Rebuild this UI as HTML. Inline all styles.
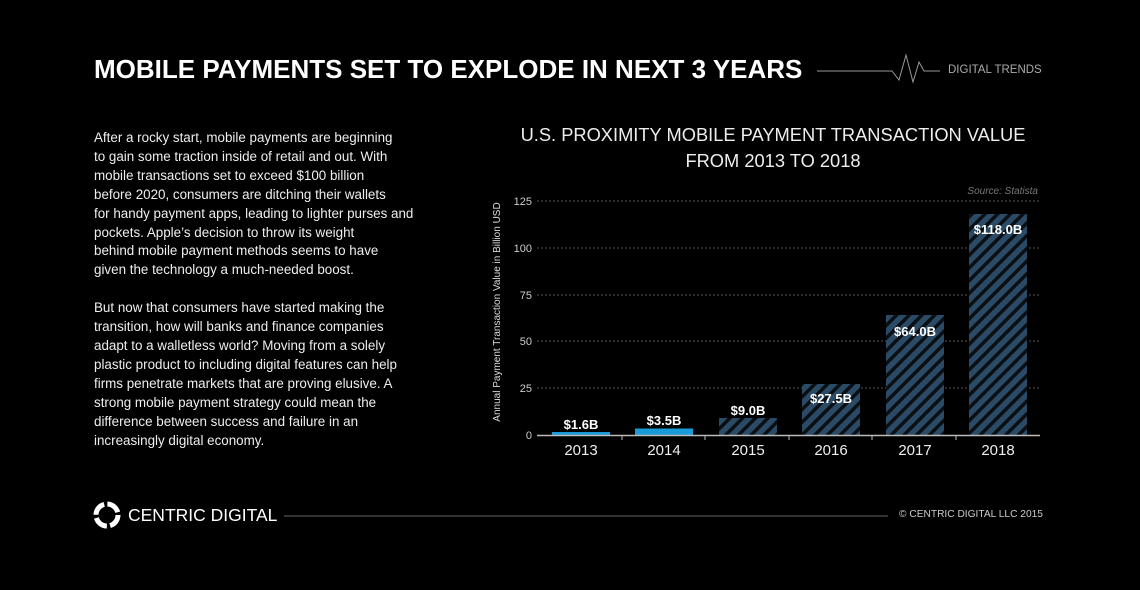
<!DOCTYPE html>
<html><head><meta charset="utf-8"><style>
body{margin:0;background:#000;width:1140px;height:590px;overflow:hidden;font-family:"Liberation Sans",sans-serif;color:#fff}
.t{position:absolute;white-space:nowrap}
</style></head><body>
<div class="t" style="left:94px;top:54px;font-size:26px;font-weight:bold;letter-spacing:0px">MOBILE PAYMENTS SET TO EXPLODE IN NEXT 3 YEARS</div>
<svg class="t" style="left:0;top:0" width="1140" height="590">
<defs><pattern id="h" width="9" height="9" patternUnits="userSpaceOnUse" patternTransform="rotate(45)"><rect width="9" height="9" fill="#2b4a66"/><rect width="3.5" height="9" fill="#0a0f14"/></pattern></defs>
<polyline points="817,71 892,71 899,80 906,55 913,82 919,62 924,71 940,71" fill="none" stroke="#999" stroke-width="1"/>
<line x1="284" y1="516" x2="888" y2="516" stroke="#666"/>
<g stroke="#555" stroke-dasharray="2,2"><line x1="537" x2="1040" y1="201" y2="201"/><line x1="537" x2="1040" y1="248" y2="248"/><line x1="537" x2="1040" y1="295" y2="295"/><line x1="537" x2="1040" y1="341" y2="341"/><line x1="537" x2="1040" y1="388" y2="388"/></g>
<rect x="552" y="432" width="58" height="3" fill="#1a9ad6"/>
<rect x="635" y="428.5" width="58" height="6.5" fill="#1a9ad6"/>
<rect x="719" y="418" width="58" height="17" fill="url(#h)"/>
<rect x="802" y="384" width="58" height="51" fill="url(#h)"/>
<rect x="886" y="315" width="58" height="120" fill="url(#h)"/>
<rect x="969" y="214" width="58" height="221" fill="url(#h)"/>
<line x1="537" x2="1040" y1="435.5" y2="435.5" stroke="#bbb" stroke-width="1.5"/>
<g stroke="#bbb"><line x1="622" x2="622" y1="435" y2="440"/><line x1="705" x2="705" y1="435" y2="440"/><line x1="789" x2="789" y1="435" y2="440"/><line x1="872" x2="872" y1="435" y2="440"/><line x1="956" x2="956" y1="435" y2="440"/></g>
<g font-size="11" fill="#ccc" text-anchor="end"><text x="532" y="205">125</text><text x="532" y="252">100</text><text x="532" y="299">75</text><text x="532" y="345">50</text><text x="532" y="392">25</text><text x="532" y="439">0</text></g>
<g font-size="15" fill="#eee" text-anchor="middle"><text x="581" y="455">2013</text><text x="664" y="455">2014</text><text x="748" y="455">2015</text><text x="831" y="455">2016</text><text x="915" y="455">2017</text><text x="998" y="455">2018</text></g>
<g font-size="13" font-weight="bold" fill="#fff" text-anchor="middle"><text x="581" y="429">$1.6B</text><text x="664" y="425">$3.5B</text><text x="748" y="415">$9.0B</text><text x="831" y="403">$27.5B</text><text x="915" y="336">$64.0B</text><text x="998" y="234">$118.0B</text></g>
<text x="1038" y="194" font-size="10" font-style="italic" fill="#777" text-anchor="end">Source:  Statista</text>
<text transform="translate(500,312) rotate(-90)" font-size="10" fill="#ddd" text-anchor="middle">Annual Payment Transaction Value in Billion USD</text>
<circle cx="107" cy="515" r="11" fill="none" stroke="#fff" stroke-width="5" stroke-dasharray="14,3.3"/>
</svg>
<div class="t" style="left:948px;top:64px;font-size:11.5px;color:#aaa">DIGITAL TRENDS</div>
<div class="t" style="left:520px;top:122px;width:506px;text-align:center;font-size:18.3px;line-height:26px;color:#eee">U.S. PROXIMITY MOBILE PAYMENT TRANSACTION VALUE<br>FROM 2013 TO 2018</div>
<div class="t" style="left:94px;top:129px;font-size:13.4px;line-height:18.9px;color:#eee">After a rocky start, mobile payments are beginning<br>to gain some traction inside of retail and out. With<br>mobile transactions set to exceed $100 billion<br>before 2020, consumers are ditching their wallets<br>for handy payment apps, leading to lighter purses and<br>pockets. Apple’s decision to throw its weight<br>behind mobile payment methods seems to have<br>given the technology a much-needed boost.<br><br>But now that consumers have started making the<br>transition, how will banks and finance companies<br>adapt to a walletless world? Moving from a solely<br>plastic product to including digital features can help<br>firms penetrate markets that are proving elusive. A<br>strong mobile payment strategy could mean the<br>difference between success and failure in an<br>increasingly digital economy.</div>
<div class="t" style="left:128px;top:505px;font-size:17.5px;color:#fff">CENTRIC DIGITAL</div>
<div class="t" style="left:899px;top:509px;font-size:10.2px;color:#ccc">© CENTRIC DIGITAL LLC 2015</div>
</body></html>
